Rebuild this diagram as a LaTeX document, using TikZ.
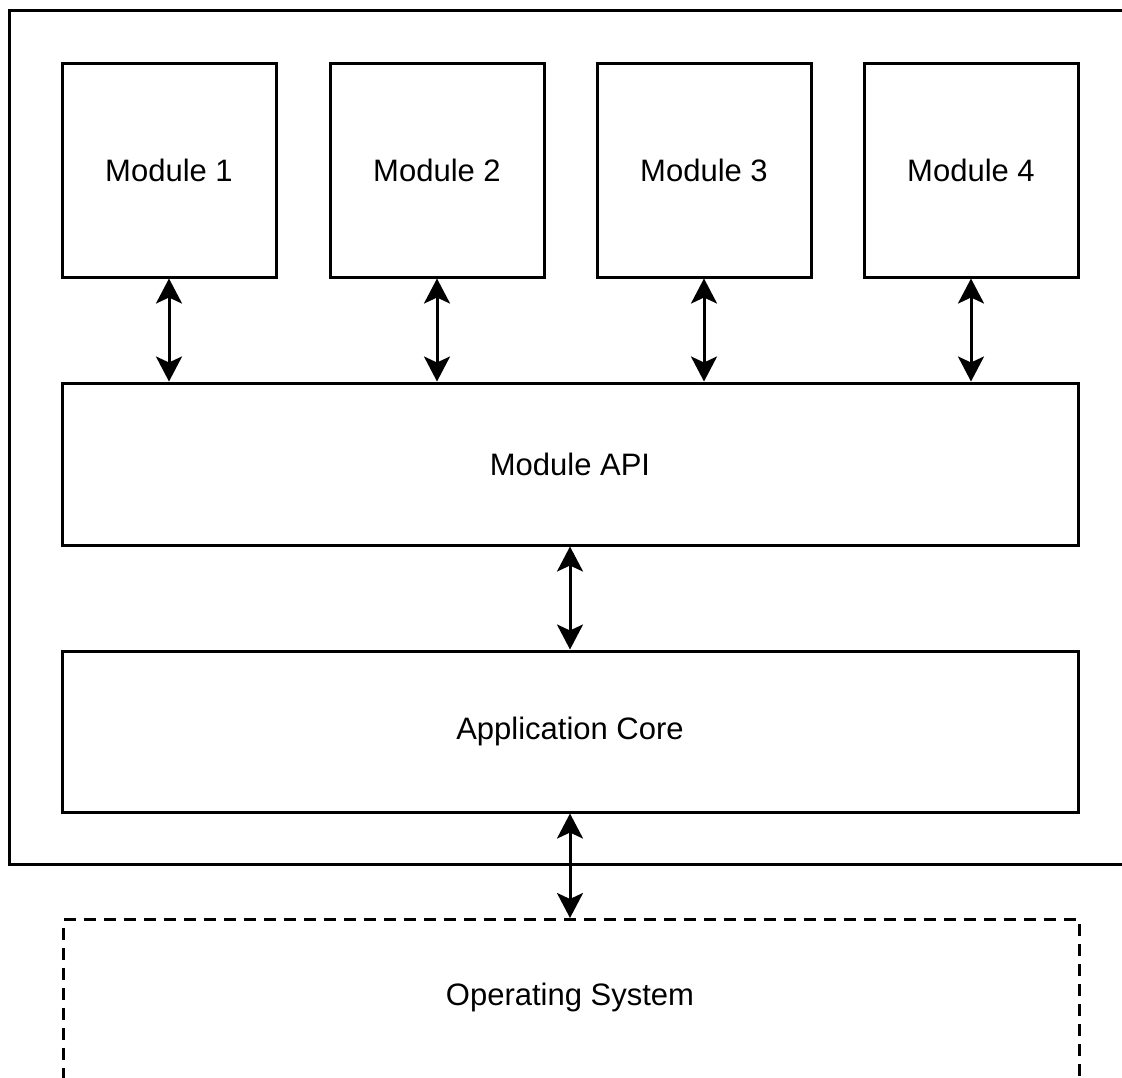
\documentclass[tikz,border=0pt]{standalone}
\usepackage{fontspec}
\setmainfont{Liberation Sans}
\usetikzlibrary{arrows.meta}
\begin{document}
\begin{tikzpicture}[x=1pt,y=-1pt,
  box/.style={draw=black,line width=3pt,fill=white,inner sep=0pt,font=\fontsize{31}{37}\selectfont},
  link/.style={line width=3pt,{Stealth[length=25pt,width=26pt,inset=6pt]}-{Stealth[length=25pt,width=26pt,inset=6pt]}}]
\useasboundingbox (0,0) rectangle (1122,1077);
\begin{scope}
\clip (0,0) rectangle (1122,1077);
\draw[line width=3pt] (9,10) rectangle (1140,864);
\node[box,dash pattern=on 12pt off 8pt,minimum width=1016pt,minimum height=200pt,anchor=north west] (os) at (62,918) {};
\end{scope}
\node[font=\fontsize{31}{37}\selectfont] (ostext) at (570,997) {Operating System};
\node[box,minimum width=214pt,minimum height=214pt] (m1) at (169,170) {Module 1};
\node[box,minimum width=214pt,minimum height=214pt] (m2) at (437,170) {Module 2};
\node[box,minimum width=214pt,minimum height=214pt] (m3) at (704,170) {Module 3};
\node[box,minimum width=214pt,minimum height=214pt] (m4) at (971,170) {Module 4};
\node[box,minimum width=1016pt,minimum height=162pt] (api) at (570,464) {Module API};
\node[box,minimum width=1016pt,minimum height=161pt] (core) at (570,731.5) {Application Core};
\coordinate (ostop) at (570,918);
\draw[link] (m1.south) -- (m1.south |- api.north);
\draw[link] (m2.south) -- (m2.south |- api.north);
\draw[link] (m3.south) -- (m3.south |- api.north);
\draw[link] (m4.south) -- (m4.south |- api.north);
\draw[link] (api.south) -- (core.north);
\draw[link] (core.south) -- (ostop);
\end{tikzpicture}
\end{document}
